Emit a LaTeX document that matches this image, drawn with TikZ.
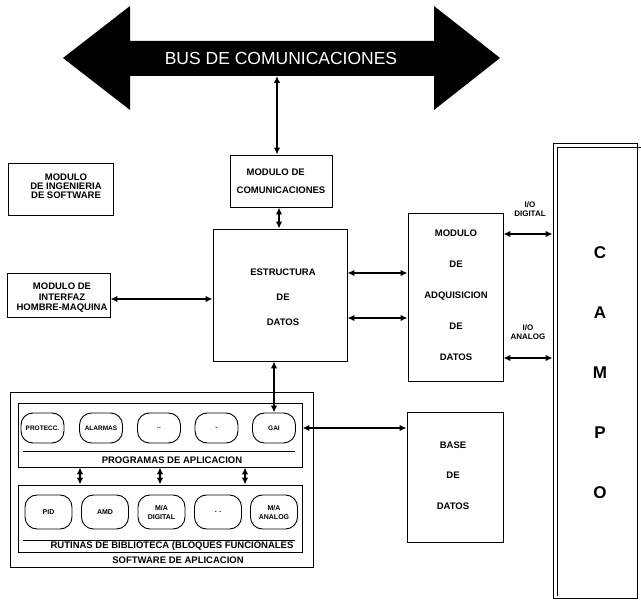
\documentclass[tikz,border=0pt]{standalone}
\usepackage{fontspec}
\setmainfont{Liberation Sans}
\usetikzlibrary{arrows.meta}
\begin{document}
\begin{tikzpicture}[x=1pt,y=-1pt,
  box/.style={draw,line width=0.9pt,inner sep=0pt},
  lbl/.style={font=\bfseries\fontsize{9.5}{10}\selectfont,align=center,inner sep=0pt},
  oval/.style={draw,line width=0.9pt,rounded corners=12pt,inner sep=0pt,align=center,font=\bfseries\fontsize{6.5}{7}\selectfont},
  link/.style={line width=1.3pt,{Latex[length=7pt,width=6.5pt]}-{Latex[length=7pt,width=6.5pt]}},
  iolbl/.style={font=\bfseries\fontsize{8}{8.5}\selectfont,align=center,inner sep=0pt},
]
\useasboundingbox (0,0) rectangle (641,604);

% bus
\fill (63,58) -- (130,6) -- (130,41) -- (434,41) -- (434,6) -- (500,58) -- (434,110) -- (434,76) -- (130,76) -- (130,110) -- cycle;
\node[text=white,font=\fontsize{17.5}{18}\selectfont,inner sep=0pt] (bus) at (281,58) {BUS DE COMUNICACIONES};
\coordinate (busb) at (277,76);

% boxes
\node[box,minimum width=105pt,minimum height=52pt] (ing) at (60.5,189) {};
\node[lbl,font=\bfseries\fontsize{9.5}{9}\selectfont] (ingt) at (66,186) {MODULO\\DE INGENIERIA\\DE SOFTWARE};

\node[box,minimum width=103pt,minimum height=44pt] (int) at (58.5,295) {};
\node[lbl,font=\bfseries\fontsize{9.5}{10.5}\selectfont] (intt) at (62,298) {MODULO DE\\INTERFAZ\\HOMBRE-MAQUINA};

\node[box,minimum width=102pt,minimum height=52pt] (com) at (281,181) {};
\node[lbl,align=left,font=\bfseries\fontsize{9.5}{18}\selectfont] (comt) at (281,181) {\hspace{10pt}MODULO DE\\COMUNICACIONES};

\node[box,minimum width=134pt,minimum height=132pt] (est) at (280,295) {};
\node[lbl,font=\bfseries\fontsize{9.5}{25}\selectfont] (estt) at (283,297.5) {ESTRUCTURA\\DE\\DATOS};

\node[box,minimum width=95pt,minimum height=168pt] (adq) at (455.5,297) {};
\node[lbl,font=\bfseries\fontsize{9.5}{31}\selectfont] (adqt) at (456,295) {MODULO\\DE\\ADQUISICION\\DE\\DATOS};

\node[box,minimum width=96pt,minimum height=130pt] (base) at (455,477) {};
\node[lbl,font=\bfseries\fontsize{9.5}{30.5}\selectfont] (baset) at (453,475.5) {BASE\\DE\\DATOS};

% campo
\node[box,minimum width=84pt,minimum height=455pt] (campo) at (595,370.5) {};
\draw[line width=0.9pt] (557,596) -- (557,147) -- (641,147);
\node[inner sep=0pt,align=center,font=\bfseries\fontsize{17}{60}\selectfont] (campot) at (600,373) {C\\A\\M\\P\\O};

\node[iolbl] (iod) at (530,209) {I/O\\DIGITAL};
\node[iolbl] (ioa) at (528,332) {I/O\\ANALOG};

% software
\node[box,minimum width=303pt,minimum height=175pt] (soft) at (161.5,479.5) {};
\node[box,minimum width=284pt,minimum height=64pt] (prog) at (160,435) {};
\node[box,minimum width=284pt,minimum height=67pt] (rut) at (160,518.5) {};
\draw[line width=0.9pt] (23,451) -- (295,451);
\draw[line width=0.9pt] (23,540) -- (295,540);
\node[lbl] (progt) at (172,460) {PROGRAMAS DE APLICACION};
\node[lbl] (rutt) at (172,546) {RUTINAS DE BIBLIOTECA (BLOQUES FUNCIONALES};
\node[lbl] (softt) at (178,560) {SOFTWARE DE APLICACION};

\foreach \n/\x/\t in {p1/42.5/PROTECC., p2/101/ALARMAS, p3/159/.., p4/216.5/-, gai/274/GAI}
  \node[oval,minimum width=43pt,minimum height=30pt] (\n) at (\x,428) {\t};
\foreach \n/\x/\t in {r1/48.5/PID, r2/105/AMD, r3/161.5/{M/A\\[1pt]DIGITAL}, r4/218/. ., r5/274/{M/A\\[1pt]ANALOG}}
  \node[oval,minimum width=47pt,minimum height=34pt,font=\bfseries\fontsize{7}{8}\selectfont] (\n) at (\x,512) {\t};

% connectors
\draw[link] (busb) -- (com.north -| busb);
\draw[link] (com.south -| 279,0) -- (est.north -| 279,0);
\draw[link] (int.east |- 0,299) -- (est.west |- 0,299);
\draw[link] (est.east |- 0,273) -- (adq.west |- 0,273);
\draw[link] (est.east |- 0,318) -- (adq.west |- 0,318);
\draw[link] (adq.east |- 0,234) -- (campo.west |- 0,234);
\draw[link] (adq.east |- 0,358) -- (campo.west |- 0,358);
\draw[link] (est.south -| gai.north) -- (gai.north);
\draw[link] (prog.east |- gai.east) -- (base.west |- gai.east);
\foreach \x in {80,160,245}
  \draw[link] (prog.south -| \x,0) -- (rut.north -| \x,0);
\end{tikzpicture}
\end{document}
